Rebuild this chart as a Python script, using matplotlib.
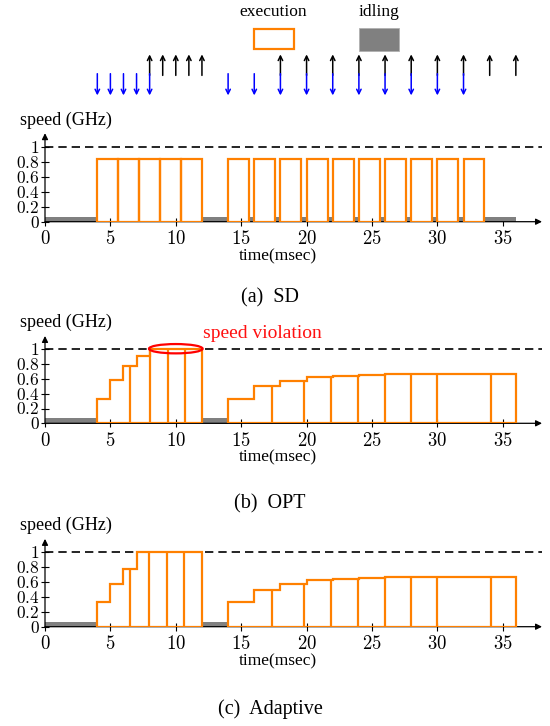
import numpy as np
import matplotlib
matplotlib.use('Agg')
import matplotlib.pyplot as plt
from matplotlib.patches import Rectangle, Ellipse

plt.rcParams['mathtext.fontset'] = 'cm'
plt.rcParams['font.family'] = ['Liberation Serif', 'DejaVu Serif']

# job releases (down arrows) and deadlines (up arrows), msec
arrivals = [4, 5, 6, 7, 8, 14, 16, 18, 20, 22, 24, 26, 28, 30, 32]
deadlines = [8, 9, 10, 11, 12, 18, 20, 22, 24, 26, 28, 30, 32, 34, 36]

# (a) SD : every job at a fixed speed
sd_start = [4, 5.6, 7.2, 8.8, 10.4, 14, 16, 18, 20, 22, 24, 26, 28, 30, 32]
sd_end = [5.6, 7.2, 8.8, 10.4, 12, 15.6, 17.6, 19.6, 21.6, 23.6, 25.6, 27.6, 29.6, 31.6, 33.6]
sd_speed = 0.83

# (b) OPT : speed profile (step edges / levels) and job boundaries
opt_edges = [[4, 5, 6, 7, 8, 12],
             [14, 16, 18, 20, 22, 24, 26, 28, 30, 32, 36]]
opt_levels = [[0.33, 0.58, 0.77, 0.91, 1.0],
              [0.33, 0.50, 0.57, 0.62, 0.645, 0.655, 0.66, 0.663, 0.665, 0.667]]
opt_bounds = [[4, 6.5, 8, 9.37, 10.72, 12],
              [14, 17.38, 19.8, 21.9, 23.95, 26, 28, 30, 34.1, 36]]

# (c) Adaptive
ad_edges = [[4, 5, 6, 7, 12],
            [14, 16, 18, 20, 22, 24, 26, 28, 30, 32, 36]]
ad_levels = [[0.33, 0.58, 0.77, 1.0],
             [0.335, 0.495, 0.58, 0.628, 0.646, 0.659, 0.664, 0.668, 0.67, 0.67]]
ad_bounds = [[4, 6.5, 7.95, 9.3, 10.65, 12],
             [14, 17.38, 19.8, 21.9, 23.95, 26, 28, 30, 34.1, 36]]

horizon = 36
idle_bc = [(0, 4), (12, 14)]

ORANGE = '#ff8000'
GRAY = '#808080'

W, H = 550, 726
fig = plt.figure(figsize=(W / 100, H / 100), dpi=100)


def px_axes(left, top, right, bottom):
    return fig.add_axes([left / W, 1 - bottom / H, (right - left) / W, (bottom - top) / H])


def ftext(x, y, s, **kw):
    fig.text(x / W, 1 - y / H, s, **kw)


def setup(ax):
    ax.set_xlim(0, 38)
    ax.set_ylim(0, 1.2)
    for s in ax.spines.values():
        s.set_visible(False)
    ax.patch.set_alpha(0)
    ax.set_xticks(range(0, 40, 5))
    ax.set_xticklabels(['$%d$' % v for v in range(0, 40, 5)])
    yt = [0, 0.2, 0.4, 0.6, 0.8, 1]
    ax.set_yticks(yt)
    ax.set_yticklabels(['$0$', '$0.2$', '$0.4$', '$0.6$', '$0.8$', '$1$'])
    ax.tick_params(axis='x', direction='inout', length=6, width=0.8, labelsize=13.5, pad=3)
    ax.tick_params(axis='y', direction='inout', length=6, width=0.8, labelsize=12.5, pad=1)
    ax.annotate('', xy=(38, 0), xytext=(0, 0), annotation_clip=False,
                arrowprops=dict(arrowstyle='-|>', color='black', lw=0.9,
                                shrinkA=0, shrinkB=0, mutation_scale=9))
    ax.annotate('', xy=(0, 1.18), xytext=(0, 0), annotation_clip=False,
                arrowprops=dict(arrowstyle='-|>', color='black', lw=0.9,
                                shrinkA=0, shrinkB=0, mutation_scale=9))
    ax.plot([0, 38], [1, 1], color='black', lw=1.2, dashes=(5, 3), zorder=1)


def idle(ax, spans):
    for a, b in spans:
        ax.add_patch(Rectangle((a, -0.01), b - a, 0.078, fc=GRAY, ec='none',
                               zorder=2, clip_on=False))


def profile(ax, edges_list, levels_list, bounds_list):
    for edges, levels, bounds in zip(edges_list, levels_list, bounds_list):
        ax.stairs(levels, edges, baseline=0, fill=False, color=ORANGE, lw=1.6, zorder=3)
        ax.hlines(0, edges[0], edges[-1], color=ORANGE, lw=1.6, zorder=3)
        for b in bounds[1:-1]:
            i = min(np.searchsorted(edges, b, side='right') - 1, len(levels) - 1)
            ax.vlines(b, 0, levels[i], color=ORANGE, lw=1.6, zorder=3)


# ---- arrival / deadline strip with legend ----
ax0 = px_axes(45, 0, 542, 110)
ax0.set_xlim(0, 38)
ax0.set_ylim(110, 0)
ax0.axis('off')
for t in deadlines:
    ax0.annotate('', xy=(t, 54.4), xytext=(t, 75.4),
                 arrowprops=dict(arrowstyle='->', color='black', lw=1.1,
                                 shrinkA=0, shrinkB=0, mutation_scale=8))
for t in arrivals:
    ax0.annotate('', xy=(t, 95.4), xytext=(t, 73.7),
                 arrowprops=dict(arrowstyle='->', color='blue', lw=1.1,
                                 shrinkA=0, shrinkB=0, mutation_scale=8))
ax0.add_patch(Rectangle((15.98, 28.5), 3.06, 20.5, fc='white', ec=ORANGE, lw=1.6))
ax0.add_patch(Rectangle((23.97, 28), 3.09, 22.5, fc=GRAY, ec='#b0b0b0', lw=0.6))
ftext(273.6, 12, 'execution', ha='center', va='center', fontsize=12.5)
ftext(378.8, 12, 'idling', ha='center', va='center', fontsize=12.5)

# ---- (a) SD ----
axa = px_axes(45, 221.7 - 90, 542, 221.7)
setup(axa)
gaps = [(0, sd_start[0])] + [(e, s) for e, s in zip(sd_end[:-1], sd_start[1:]) if s > e] \
    + [(sd_end[-1], horizon)]
idle(axa, gaps)
axa.bar(sd_start, [sd_speed] * len(sd_start), width=np.subtract(sd_end, sd_start),
        align='edge', fill=False, edgecolor=ORANGE, lw=1.6, zorder=3)

# ---- (b) OPT ----
axb = px_axes(45, 423.3 - 88.8, 542, 423.3)
setup(axb)
idle(axb, idle_bc)
profile(axb, opt_edges, opt_levels, opt_bounds)
axb.add_patch(Ellipse((10.0, 1.008), 4.1, 0.126, fill=False, ec='red', lw=1.6,
                      zorder=4, clip_on=False))
ftext(203, 334, 'speed violation', ha='left', va='center', fontsize=14, color='#ff1010')

# ---- (c) Adaptive ----
axc = px_axes(45, 626.7 - 89.3, 542, 626.7)
setup(axc)
idle(axc, idle_bc)
profile(axc, ad_edges, ad_levels, ad_bounds)

# labels
for y in (120, 322.5, 525):
    ftext(20, y, 'speed (GHz)', ha='left', va='center', fontsize=13)
for y in (256, 457.6, 661):
    ftext(278, y, 'time(msec)', ha='center', va='center', fontsize=12.5)
ftext(270, 298, '(a)  SD', ha='center', va='center', fontsize=14.5)
ftext(270, 504, '(b)  OPT', ha='center', va='center', fontsize=14.5)
ftext(270, 709, '(c)  Adaptive', ha='center', va='center', fontsize=14.5)

fig.savefig('out.png', dpi=100)
